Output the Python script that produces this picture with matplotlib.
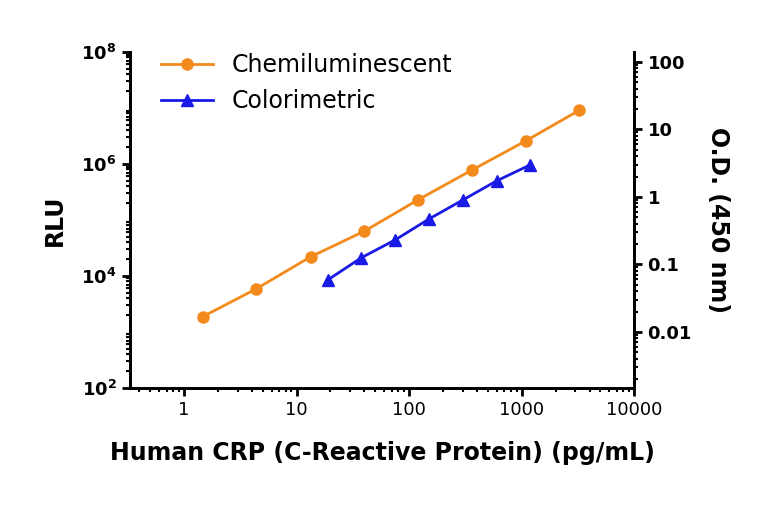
import matplotlib
matplotlib.use("Agg")
import matplotlib.pyplot as plt
from matplotlib.ticker import LogLocator, NullFormatter

chemi_x = [1.46, 4.4, 13.3, 40, 120, 360, 1080, 3240]
chemi_y = [1860, 5900, 21900, 63000, 229000, 776000, 2.57e6, 9.1e6]
color_x = [19, 37.5, 75, 150, 300, 600, 1190]
color_y = [0.059, 0.125, 0.23, 0.47, 0.90, 1.73, 2.98]

plt.rcParams['font.family'] = ['DejaVu Sans']
fig = plt.figure(figsize=(7.68, 5.05), dpi=100)
ax = fig.add_axes([0.169, 0.232, 0.657, 0.665])
ax2 = ax.twinx()

l1, = ax.plot(chemi_x, chemi_y, color='#F28A1C', marker='o', ms=8, lw=2, label='Chemiluminescent')
l2, = ax2.plot(color_x, color_y, color='#1A1AE6', marker='^', ms=8, lw=2, label='Colorimetric')

ax.set_xscale('log'); ax.set_yscale('log'); ax2.set_yscale('log')
ax.set_xlim(0.33, 10000)
ax.set_ylim(1e2, 1e8)
ax2.set_ylim(0.00148, 140)
ax.set_xticks([1, 10, 100, 1000, 10000])
ax.set_xticklabels(['1', '10', '100', '1000', '10000'])
ax.set_yticks([1e2, 1e4, 1e6, 1e8])
ax.set_yticklabels([r'$\mathbf{10^2}$', r'$\mathbf{10^4}$', r'$\mathbf{10^6}$', r'$\mathbf{10^8}$'])
ax2.set_yticks([0.01, 0.1, 1, 10, 100])
ax2.set_yticklabels(['0.01', '0.1', '1', '10', '100'])
for a in (ax, ax2):
    a.spines['top'].set_visible(False)
    for s in a.spines.values():
        s.set_linewidth(2)
for a in (ax.xaxis, ax.yaxis, ax2.yaxis):
    a.set_minor_locator(LogLocator(base=10, subs=range(2, 10), numticks=20))
    a.set_minor_formatter(NullFormatter())
ax.tick_params(which='major', width=2, length=6, labelsize=13)
ax.tick_params(which='minor', width=1.5, length=3)
ax2.tick_params(which='major', width=2, length=6, labelsize=13)
ax2.tick_params(which='minor', width=1.5, length=3)
for t in ax2.get_yticklabels():
    t.set_fontweight('bold')

ax.set_xlabel('Human CRP (C-Reactive Protein) (pg/mL)', fontsize=17, fontweight='bold', labelpad=16)
ax.set_ylabel('RLU', fontsize=17, fontweight='bold', labelpad=10)
ax2.set_ylabel('O.D. (450 nm)', fontsize=17, fontweight='bold', rotation=270)
ax2.yaxis.set_label_coords(1.19, 0.5)
ax.legend(handles=[l1, l2], loc='upper left', bbox_to_anchor=(0.02, 1.06), frameon=False,
          fontsize=17, handlelength=2.2, labelspacing=0.5)
fig.savefig('out.png', dpi=100)
